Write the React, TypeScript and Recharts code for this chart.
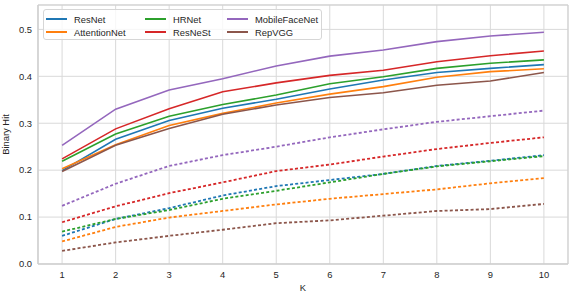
import React from 'react';
import { LineChart, Line, XAxis, YAxis, CartesianGrid, ReferenceArea } from 'recharts';

const kValues = [1, 2, 3, 4, 5, 6, 7, 8, 9, 10];
const models = ['ResNet', 'AttentionNet', 'HRNet', 'ResNeSt', 'MobileFaceNet', 'RepVGG'];
const colors = ['#1f77b4', '#ff7f0e', '#2ca02c', '#d62728', '#9467bd', '#8c564b'];

// solid lines
const resnetSolid = [0.199, 0.266, 0.306, 0.332, 0.351, 0.373, 0.392, 0.408, 0.417, 0.425];
const attentionSolid = [0.203, 0.254, 0.295, 0.321, 0.343, 0.362, 0.378, 0.398, 0.410, 0.416];
const hrnetSolid = [0.219, 0.277, 0.315, 0.340, 0.360, 0.384, 0.399, 0.417, 0.428, 0.435];
const resnestSolid = [0.224, 0.288, 0.331, 0.367, 0.386, 0.402, 0.413, 0.431, 0.444, 0.454];
const mobileSolid = [0.253, 0.330, 0.371, 0.395, 0.422, 0.443, 0.456, 0.474, 0.486, 0.494];
const repvggSolid = [0.197, 0.253, 0.289, 0.319, 0.339, 0.355, 0.365, 0.381, 0.390, 0.408];

// dashed lines
const resnetDashed = [0.060, 0.096, 0.119, 0.146, 0.166, 0.179, 0.192, 0.209, 0.220, 0.232];
const attentionDashed = [0.048, 0.079, 0.099, 0.113, 0.127, 0.139, 0.149, 0.159, 0.172, 0.183];
const hrnetDashed = [0.069, 0.096, 0.115, 0.139, 0.156, 0.174, 0.192, 0.208, 0.219, 0.230];
const resnestDashed = [0.089, 0.123, 0.151, 0.174, 0.198, 0.212, 0.229, 0.245, 0.258, 0.270];
const mobileDashed = [0.124, 0.171, 0.209, 0.232, 0.250, 0.270, 0.287, 0.303, 0.315, 0.327];
const repvggDashed = [0.028, 0.046, 0.060, 0.073, 0.087, 0.093, 0.103, 0.113, 0.117, 0.128];

const yTicks = [0, 0.1, 0.2, 0.3, 0.4, 0.5];

const solidSeries = [resnetSolid, attentionSolid, hrnetSolid, resnestSolid, mobileSolid, repvggSolid];
const dashedSeries = [resnetDashed, attentionDashed, hrnetDashed, resnestDashed, mobileDashed, repvggDashed];

const data = kValues.map((k, i) => {
  const row: Record<string, number> = { k };
  models.forEach((m, j) => {
    row[m + '_s'] = solidSeries[j][i];
    row[m + '_d'] = dashedSeries[j][i];
  });
  return row;
});

const FONT = '"Liberation Sans", Arial, sans-serif';
const TEXT = '#262626';

const legendColumns = [
  [0, 1],
  [2, 3],
  [4, 5],
];
const colLeft = [2, 101, 183];

export default function App() {
  return (
    <div style={{ position: 'absolute', left: 0, top: 0, width: 574, height: 298, background: '#fff', fontFamily: FONT }}>
      <LineChart width={574} height={298} data={data} margin={{ top: 5, right: 6, left: 0, bottom: 0 }}>
        <CartesianGrid stroke="#d9d9d9" strokeWidth={1} />
        <ReferenceArea x1={0.55} x2={10.45} y1={0} y2={0.552} fill="none" stroke="#cfcfcf" strokeWidth={1} ifOverflow="extendDomain" />
        <XAxis
          dataKey="k"
          type="number"
          domain={[0.55, 10.45]}
          ticks={kValues}
          allowDataOverflow
          height={34}
          tickSize={0}
          tickMargin={7}
          tickLine={false}
          axisLine={{ stroke: '#cfcfcf' }}
          tick={{ fill: TEXT, fontSize: 9.4, fontFamily: FONT }}
          label={{ value: 'K', position: 'insideBottom', offset: 7, fill: TEXT, fontSize: 9.4, fontFamily: FONT }}
        />
        <YAxis
          type="number"
          domain={[0, 0.552]}
          ticks={yTicks}
          allowDataOverflow
          width={38}
          tickSize={0}
          tickMargin={6}
          tickLine={false}
          axisLine={{ stroke: '#cfcfcf' }}
          tickFormatter={(v: number) => v.toFixed(1)}
          tick={{ fill: TEXT, fontSize: 9.4, fontFamily: FONT }}
          label={{ value: 'Binary Hit', angle: -90, position: 'insideLeft', offset: 6, fill: TEXT, fontSize: 9.4, fontFamily: FONT, style: { textAnchor: 'middle' } }}
        />
        {models.map((m, j) => (
          <Line
            key={m + '_s'}
            dataKey={m + '_s'}
            stroke={colors[j]}
            strokeWidth={1.6}
            dot={false}
            isAnimationActive={false}
            type="linear"
          />
        ))}
        {models.map((m, j) => (
          <Line
            key={m + '_d'}
            dataKey={m + '_d'}
            stroke={colors[j]}
            strokeWidth={1.8}
            strokeDasharray="3 2.2"
            dot={false}
            isAnimationActive={false}
            type="linear"
          />
        ))}
      </LineChart>
      <div
        style={{
          position: 'absolute',
          left: 43,
          top: 9,
          width: 277,
          height: 29,
          border: '1px solid #d6d6d6',
          borderRadius: 3,
          background: 'rgba(255,255,255,0.8)',
          fontSize: 9.4,
          color: TEXT,
          fontFamily: FONT,
        }}
      >
        {legendColumns.map((col, c) =>
          col.map((idx, r) => (
            <div
              key={models[idx]}
              style={{ position: 'absolute', left: colLeft[c], top: 3 + r * 13.4, height: 12, display: 'flex', alignItems: 'center', whiteSpace: 'nowrap' }}
            >
              <span style={{ display: 'inline-block', width: 21, height: 2, background: colors[idx], marginRight: 7 }} />
              <span>{models[idx]}</span>
            </div>
          ))
        )}
      </div>
    </div>
  );
}
